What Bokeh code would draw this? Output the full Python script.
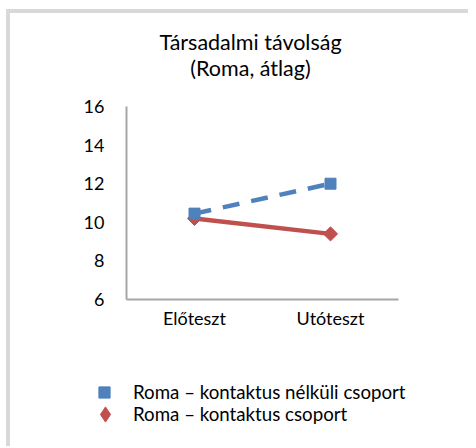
from math import pi
from bokeh.plotting import figure
from bokeh.layouts import column
from bokeh.models import Range1d, FactorRange, FixedTicker, Label, Legend, LegendItem
from bokeh.embed import file_html
from bokeh.resources import INLINE

title_lines = ["Társadalmi távolság", "(Roma, átlag)"]
categories = ["Előteszt", "Utóteszt"]
series_names = ["Roma – kontaktus nélküli csoport", "Roma – kontaktus csoport"]
no_contact = [10.45, 12.0]
contact = [10.2, 9.4]
y_ticks = [6, 8, 10, 12, 14, 16]

FONT = "Lato"
BLUE = "#4F81BD"
RED = "#C0504D"
AXIS = "#a6a6a6"
W = 458


def strip(height, **kw):
    f = figure(width=W, height=height, output_backend="svg", toolbar_location=None,
               x_axis_type=None, y_axis_type=None, frame_align=False,
               min_border_left=0, min_border_right=0, min_border_top=0, min_border_bottom=0,
               **kw)
    f.outline_line_color = None
    f.xgrid.visible = False
    f.ygrid.visible = False
    return f


# ---- title block
t = strip(80)
for text, yy in zip(title_lines, [52, 26]):
    t.add_layout(Label(x=240, y=yy, x_units="screen", y_units="screen", text=text,
                       text_align="center", text_baseline="alphabetic",
                       text_font=FONT, text_font_size="21.5px", text_color="black"))

# ---- main chart
p = figure(width=W, height=267,
           x_range=FactorRange(factors=categories, range_padding=0),
           y_range=Range1d(6, 16),
           output_backend="svg", toolbar_location=None, frame_align=False,
           min_border_left=116, min_border_right=70,
           min_border_top=13, min_border_bottom=61)
p.outline_line_color = None
p.xgrid.visible = False
p.ygrid.visible = False

for ax in (p.xaxis[0], p.yaxis[0]):
    ax.axis_line_color = AXIS
    ax.axis_line_width = 2
    ax.major_tick_line_color = None
    ax.minor_tick_line_color = None
    ax.major_tick_in = 0
    ax.major_tick_out = 0
    ax.major_label_text_font = FONT
    ax.major_label_text_font_size = "18px"
    ax.major_label_text_color = "black"
p.yaxis[0].ticker = FixedTicker(ticks=y_ticks)
p.yaxis[0].major_label_standoff = 22
p.xaxis[0].major_label_standoff = 7

p.line(categories, contact, line_color=RED, line_width=4.5)
p.scatter(categories, contact, marker="square", angle=pi / 4, size=10,
          fill_color=RED, line_color=RED)
p.line(categories, no_contact, line_color=BLUE, line_width=4.5, line_dash="17 12")
p.scatter(categories, no_contact, marker="square", size=11,
          fill_color=BLUE, line_color=BLUE)

# ---- legend block (same series; its points fall outside this strip's range)
lf = strip(86, x_range=FactorRange(factors=categories), y_range=Range1d(0, 1))
l_blue = lf.scatter(categories, no_contact, marker="square", fill_color=BLUE, line_color=BLUE)
l_red = lf.scatter(categories, contact, marker="diamond", fill_color=RED, line_color=RED)

common = dict(padding=0, margin=0, spacing=0, label_text_font=FONT,
              label_text_font_size="18.7px", label_text_color="black",
              border_line_alpha=0, background_fill_alpha=0)
leg_a = Legend(items=[LegendItem(label=series_names[0], renderers=[l_blue])],
               location=(80, 40), glyph_width=28, glyph_height=28, label_standoff=15,
               **common)
leg_b = Legend(items=[LegendItem(label=series_names[1], renderers=[l_red])],
               location=(76, 13), glyph_width=38, glyph_height=38, label_standoff=9,
               **common)
lf.add_layout(leg_a, "center")
lf.add_layout(leg_b, "center")

c = column(t, p, lf, spacing=0)
c.styles = {"border-left": "4px solid #d9d9d9", "border-top": "4px solid #d9d9d9",
            "margin-left": "6px", "margin-top": "9px"}

open("out.html", "w").write(file_html(c, INLINE))
